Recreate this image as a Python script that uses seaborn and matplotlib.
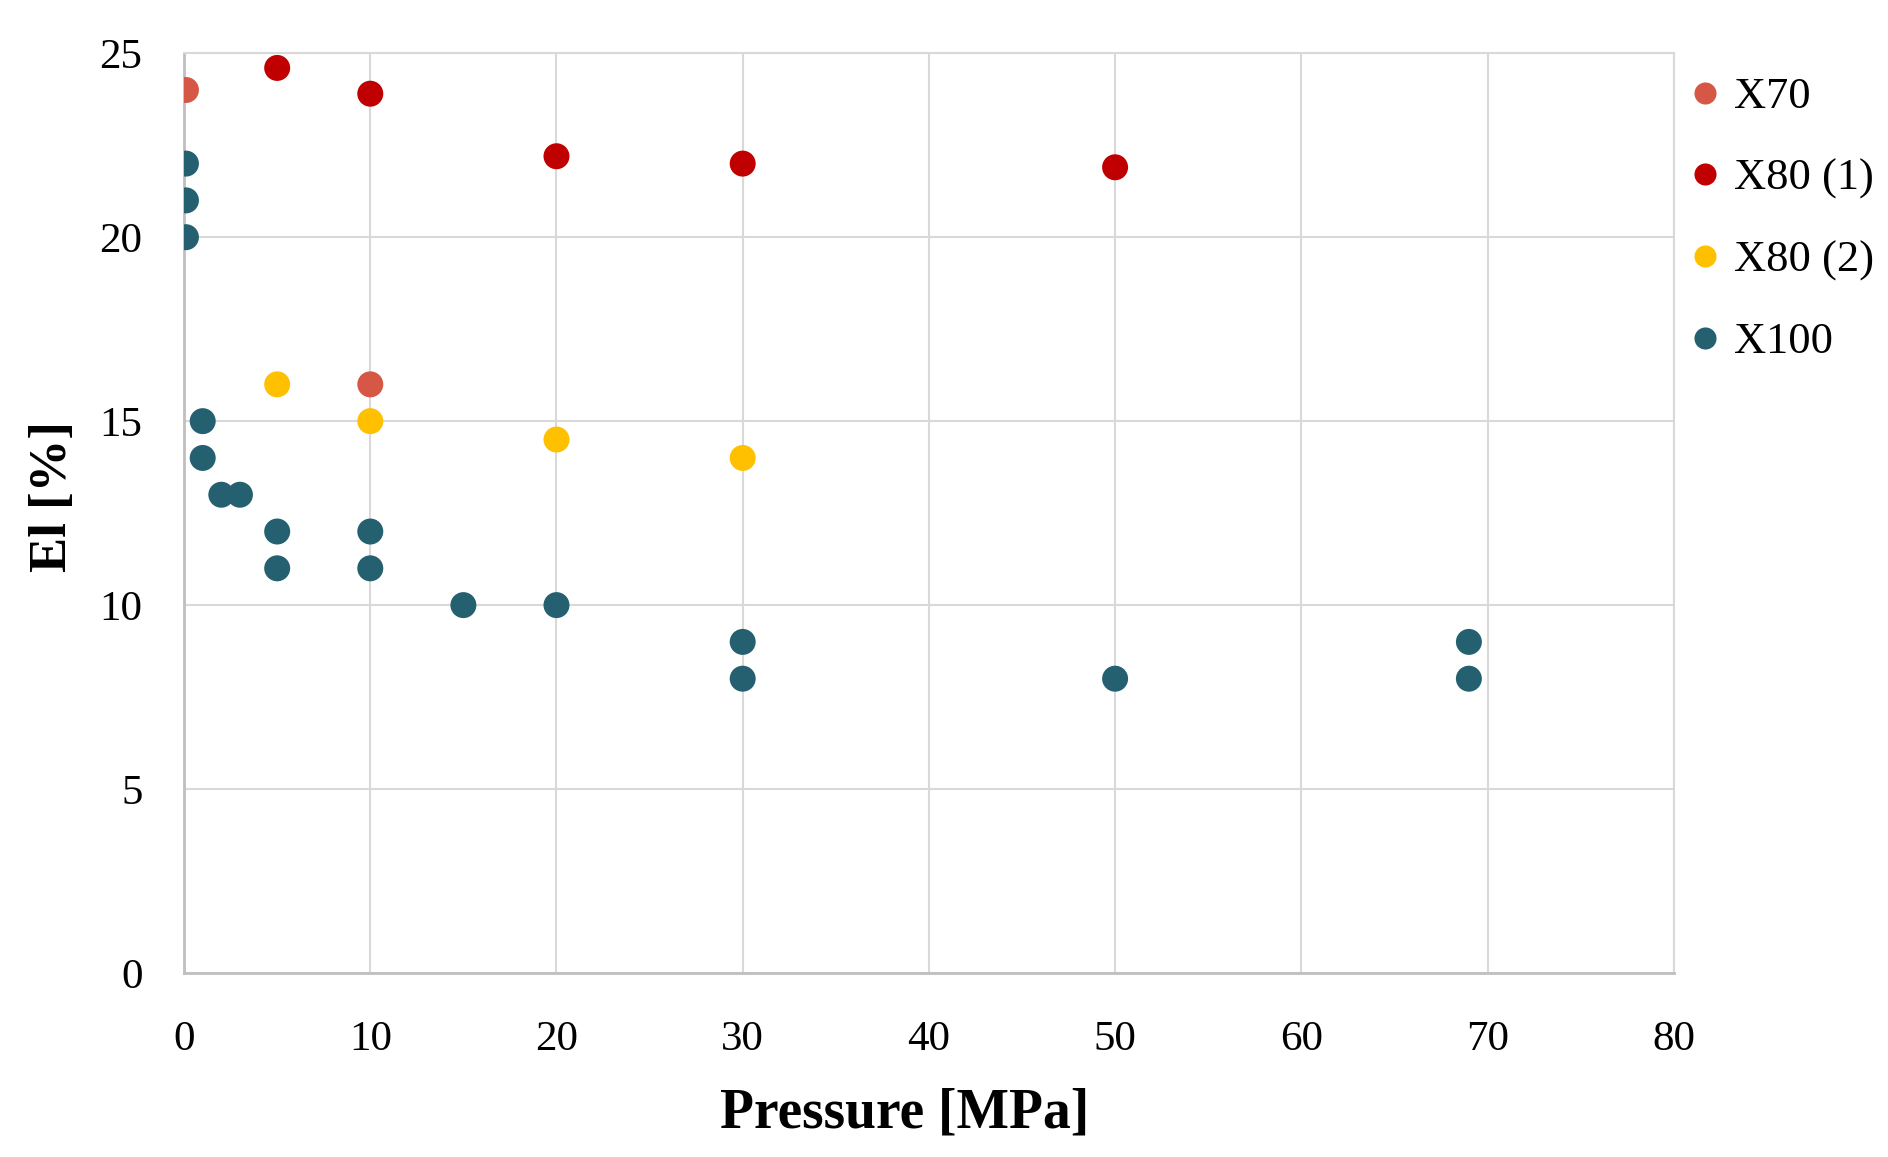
import pandas as pd
import matplotlib.pyplot as plt
import seaborn as sns

# Values
x70_p = [0.1, 10]
x70_el = [24, 16]
x80a_p = [5, 10, 20, 30, 50]
x80a_el = [24.6, 23.9, 22.2, 22.0, 21.9]
x80b_p = [5, 10, 20, 30]
x80b_el = [16, 15, 14.5, 14]
x100_p = [0.1, 0.1, 0.1, 1, 1, 2, 3, 5, 5, 10, 10, 15, 20, 30, 30, 50, 69, 69]
x100_el = [22, 21, 20, 15, 14, 13, 13, 12, 11, 12, 11, 10, 10, 9, 8, 8, 9, 8]

series = ["X70", "X80 (1)", "X80 (2)", "X100"]
colors = ["#D65745", "#C00000", "#FFC000", "#24606F"]

df = pd.concat([
    pd.DataFrame({"Pressure": x70_p, "El": x70_el, "Steel": "X70"}),
    pd.DataFrame({"Pressure": x80a_p, "El": x80a_el, "Steel": "X80 (1)"}),
    pd.DataFrame({"Pressure": x80b_p, "El": x80b_el, "Steel": "X80 (2)"}),
    pd.DataFrame({"Pressure": x100_p, "El": x100_el, "Steel": "X100"}),
])

sns.set_style("white")
plt.rcParams["font.family"] = ["Liberation Serif", "DejaVu Serif"]
plt.rcParams["text.color"] = "black"
plt.rcParams["axes.labelcolor"] = "black"

fig = plt.figure(figsize=(18.88, 11.57), dpi=100)
ax = fig.add_axes([0.0975, 0.159, 0.789, 0.795])

sns.scatterplot(data=df, x="Pressure", y="El", hue="Steel", hue_order=series,
                palette=colors, s=350, linewidth=0, ax=ax, zorder=3)

ax.set_xlim(0, 80)
ax.set_ylim(0, 25)
ax.set_xticks(range(0, 81, 10))
ax.set_yticks(range(0, 26, 5))
ax.grid(True, color="#D9D9D9", linewidth=1.5, zorder=0)
ax.set_axisbelow(True)
for side in ["top", "right"]:
    ax.spines[side].set_color("#D9D9D9")
    ax.spines[side].set_linewidth(1.5)
for side in ["left", "bottom"]:
    ax.spines[side].set_color("#BFBFBF")
    ax.spines[side].set_linewidth(2)
ax.tick_params(axis="both", length=0, labelsize=31, colors="black")
ax.tick_params(axis="x", pad=34)
ax.tick_params(axis="y", pad=30)

ax.set_xlabel("Pressure [MPa]", fontsize=40, fontweight="bold")
ax.set_ylabel("El [%]", fontsize=38, fontweight="bold")
ax.xaxis.set_label_coords(0.484, -0.124)
ax.yaxis.set_label_coords(-0.072, 0.518)

ax.legend(loc="upper left", bbox_to_anchor=(0.99, 1.008), frameon=False,
          fontsize=32, handlelength=0.7, handletextpad=0.3, labelspacing=0.93,
          markerscale=0.85, borderaxespad=0.3)

fig.savefig("out.png", dpi=100)
